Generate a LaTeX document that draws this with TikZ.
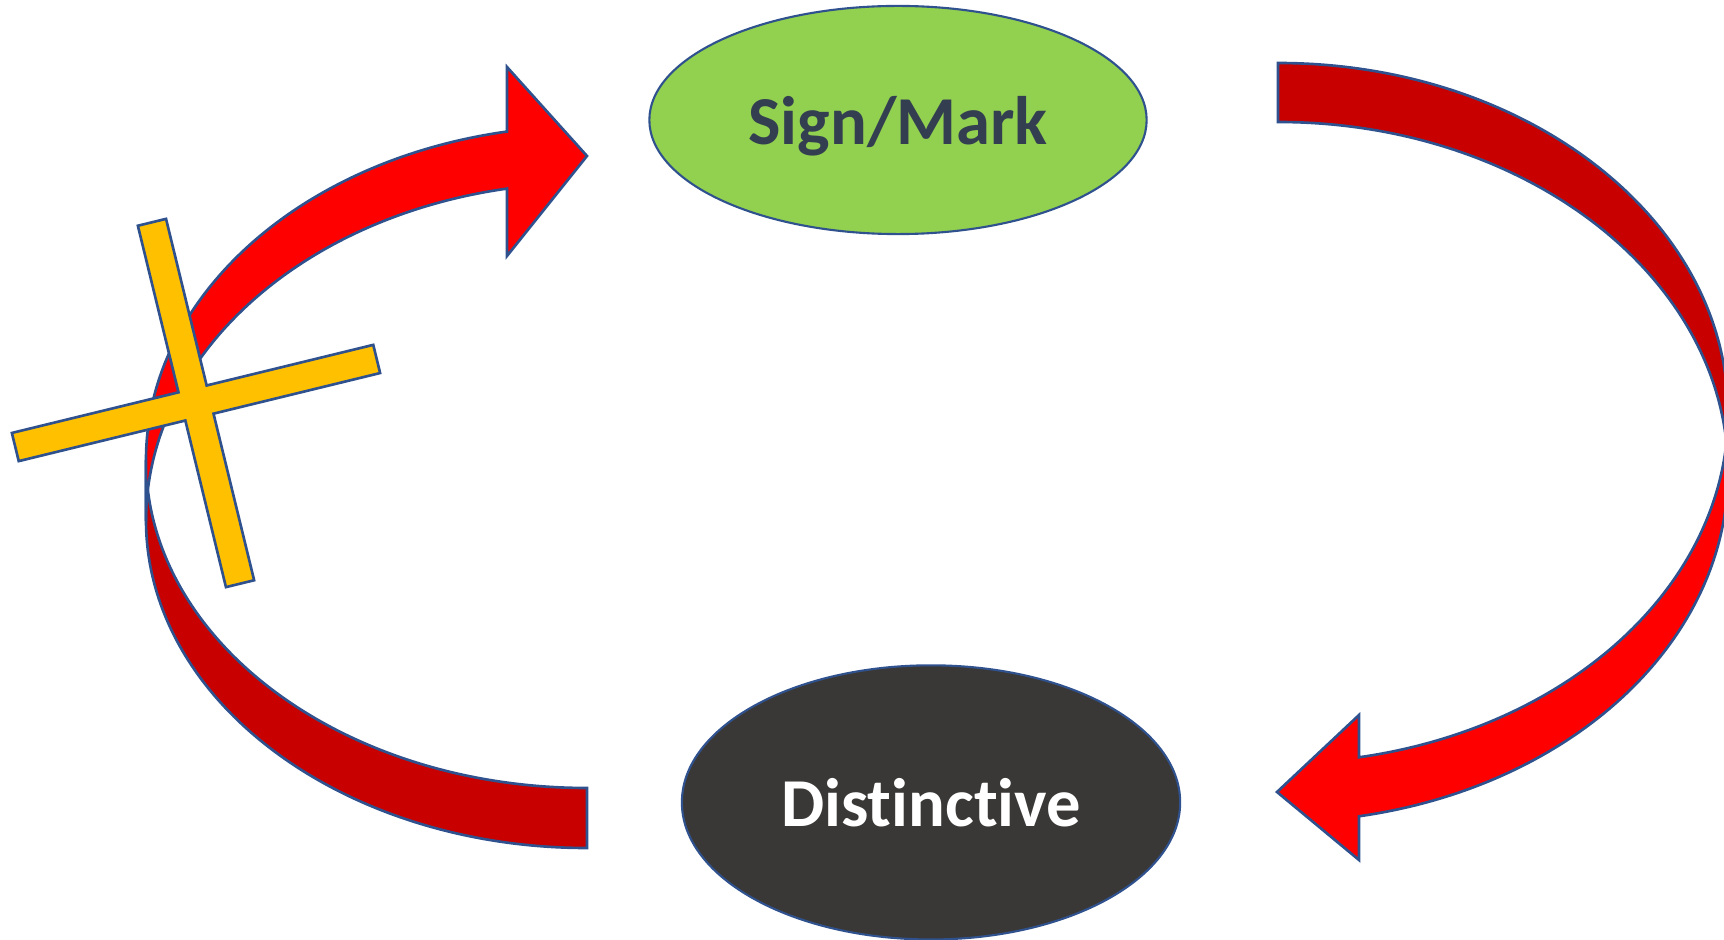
\documentclass[tikz,border=0pt]{standalone}
\usepackage{fontspec}
\setmainfont{Carlito}[Ligatures={NoCommon,NoContextual}]
\usetikzlibrary{shapes.geometric,positioning}
\definecolor{edgeblue}{HTML}{2F528F}
\definecolor{frontred}{HTML}{FF0000}
\definecolor{backred}{HTML}{C80000}
\definecolor{markgreen}{HTML}{92D050}
\definecolor{markink}{HTML}{333F50}
\definecolor{distgray}{HTML}{3A3836}
\definecolor{crossgold}{HTML}{FFC000}
\tikzset{
  bubble/.style={ellipse, draw=edgeblue, line width=0.6pt, inner sep=0pt, text depth=0pt,
    font=\fontsize{19.5}{23}\selectfont\bfseries},
  band/.style={draw=edgeblue, line width=0.75pt, line join=miter}
}
\begin{document}
\begin{tikzpicture}[x=0.01cm, y=-0.01cm]
  \useasboundingbox (0,0) rectangle (1724,940);
  \clip (0,0) rectangle (1724,940);

  \node (sign) [bubble, fill=markgreen, text=markink, minimum width=4.97cm, minimum height=2.28cm] at (898,120) {Sign/Mark};
  \node (dist) [bubble, fill=distgray, text=white, minimum width=4.98cm, minimum height=2.74cm,
    below of=sign, node distance=6.82cm, xshift=0.33cm] {Distinctive};

  % left arrow
  \path[band, fill=backred] (587,848) arc[start angle=90, end angle=180, x radius=441, y radius=328]
    -- (146,460) arc[start angle=180, end angle=90, x radius=441, y radius=328] -- cycle;
  \path[band, fill=frontred] (146,460) arc[start angle=180, end angle=259.55, x radius=441, y radius=334]
    -- (507,67) -- (587,156) -- (507,256) -- (507,188.6)
    arc[start angle=259.55, end angle=180, x radius=441, y radius=338] -- cycle;

  % right arrow
  \path[band, fill=backred] (1278,63) arc[start angle=270, end angle=360, x radius=450, y radius=350]
    -- (1728,472) arc[start angle=360, end angle=270, x radius=450, y radius=350] -- cycle;
  \path[band, fill=frontred] (1728,472) arc[start angle=0, end angle=79.63, x radius=450, y radius=350]
    -- (1359,860) -- (1277,792) -- (1359,715) -- (1359,757.3)
    arc[start angle=79.63, end angle=0, x radius=450, y radius=350] -- cycle;

  % cross
  \begin{scope}[shift={(196,403)}, rotate=13.7]
    \path[band, fill=crossgold] (-14.5,-186) -- (14.5,-186) -- (14.5,-14.5) -- (186,-14.5)
      -- (186,14.5) -- (14.5,14.5) -- (14.5,186) -- (-14.5,186) -- (-14.5,14.5)
      -- (-186,14.5) -- (-186,-14.5) -- (-14.5,-14.5) -- cycle;
  \end{scope}
\end{tikzpicture}
\end{document}
